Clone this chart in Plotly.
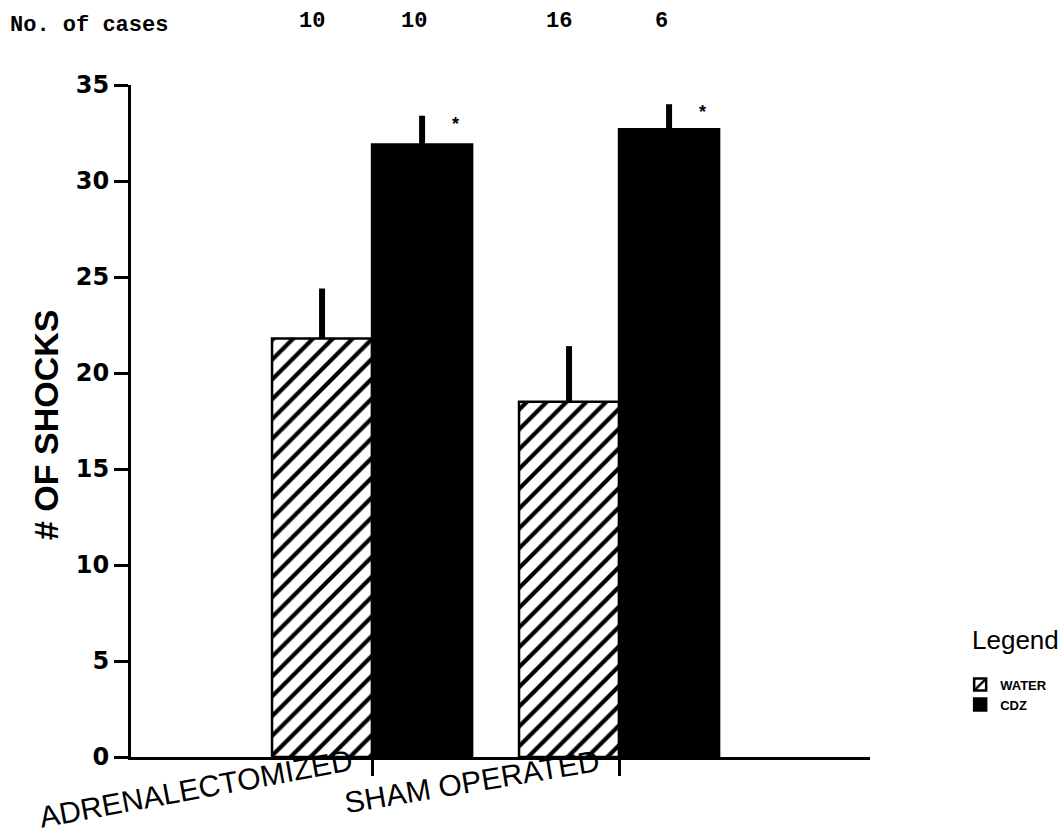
import plotly.graph_objects as go

# ---- data ----
groups = ["ADRENALECTOMIZED", "SHAM OPERATED"]
water_mean = [21.8, 18.5]
water_err = [2.6, 2.9]
cdz_mean = [31.9, 32.7]
cdz_err = [1.5, 1.3]
water_cases = [10, 16]
cdz_cases = [10, 6]
y_ticks = [0, 5, 10, 15, 20, 25, 30, 35]

BAR_W = 0.405          # bar width in category units

fig = go.Figure()
fig.add_trace(go.Bar(
    name="WATER", x=groups, y=water_mean, legendgroup="w",
    marker=dict(color="white", line=dict(color="black", width=2.5),
                pattern=dict(shape="/", fgcolor="black", bgcolor="white", fgopacity=1,
                             size=14, solidity=0.3)),
    error_y=dict(type="data", array=water_err, arrayminus=[0] * len(groups),
                 symmetric=False, thickness=6, width=0, color="black"),
))
fig.add_trace(go.Bar(
    name="CDZ", x=groups, y=cdz_mean, legendgroup="c",
    marker=dict(color="black", line=dict(color="black", width=2.5)),
    error_y=dict(type="data", array=cdz_err, arrayminus=[0] * len(groups),
                 symmetric=False, thickness=6, width=0, color="black"),
))

annotations = []
mono = dict(family="Liberation Mono, Courier New, monospace", size=22, color="black", weight="bold")
annotations.append(dict(text="No. of cases", xref="paper", yref="paper",
                        x=-0.166, y=1.089, xanchor="left", yanchor="middle",
                        showarrow=False, font=mono))
# case counts above each bar
for i, g in enumerate(groups):
    for n, sh in ((water_cases[i], -50 - 10), (cdz_cases[i], 50 - 8)):
        annotations.append(dict(text=str(n), x=g, y=1.095, xref="x", yref="paper",
                                xshift=sh, showarrow=False, yanchor="middle",
                                font=mono))
    # significance asterisks
    annotations.append(dict(text="*", x=g, y=cdz_mean[i] + cdz_err[i], xref="x", yref="y",
                            xshift=50 + 33, yshift=-8, showarrow=False,
                            font=dict(family="Liberation Sans", size=18, color="black", weight="bold")))

# slanted category labels, ending at each category tick
label_font = dict(family="Liberation Sans", size=30, color="black")
annotations.append(dict(text=groups[0], xref="paper", yref="paper",
                        x=0.088, y=-0.047, textangle=-10.5, showarrow=False,
                        xanchor="center", yanchor="middle", font=label_font))
annotations.append(dict(text=groups[1], xref="paper", yref="paper",
                        x=0.462, y=-0.036, textangle=-9.5, showarrow=False,
                        xanchor="center", yanchor="middle", font=label_font))
# y axis title
annotations.append(dict(text="# OF SHOCKS", xref="paper", yref="paper",
                        x=-0.115, y=0.494, textangle=-90, showarrow=False,
                        xanchor="center", yanchor="middle",
                        font=dict(family="Liberation Sans", size=34, color="black", weight="bold")))
# legend heading
annotations.append(dict(text="Legend", xref="paper", yref="paper",
                        x=1.135, y=0.174, xanchor="left", yanchor="middle", showarrow=False,
                        font=dict(family="Liberation Sans", size=26, color="black")))

fig.update_layout(
    width=1064, height=834, autosize=False,
    margin=dict(l=131, r=194, t=85, b=77, autoexpand=False),
    paper_bgcolor="white", plot_bgcolor="white",
    barmode="group", bargap=1 - 2 * BAR_W, bargroupgap=0,
    showlegend=True,
    legend=dict(x=1.122, y=0.13, xanchor="left", yanchor="top",
                font=dict(family="Liberation Sans", size=13, color="black", weight="bold"),
                bgcolor="rgba(0,0,0,0)", traceorder="normal", tracegroupgap=8),
    xaxis=dict(type="category", range=[-0.976, 2.016], showticklabels=False,
               ticks="outside", ticklen=16, tickwidth=2.5, tickcolor="black",
               showline=True, linecolor="black", linewidth=3,
               showgrid=False, zeroline=False),
    yaxis=dict(range=[0, 35], tickvals=y_ticks, ticks="outside", ticklen=14,
               tickwidth=3, tickcolor="black", showline=True, linecolor="black",
               linewidth=3, showgrid=False, zeroline=False,
               tickfont=dict(family="DejaVu Sans", size=24, color="black", weight="bold")),
    annotations=annotations,
)

fig.write_html("out.html")
